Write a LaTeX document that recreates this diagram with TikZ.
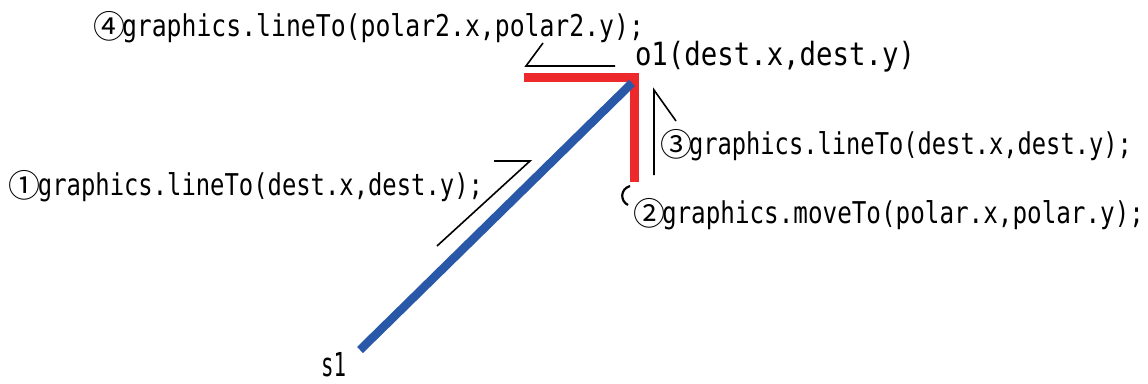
\documentclass[tikz,border=0pt]{standalone}
\usepackage{fontspec}
\usepackage{graphicx}
\newfontfamily\monof{DejaVu Sans Mono}
\newfontfamily\circf{Noto Sans CJK JP}
\definecolor{lineblue}{RGB}{42,88,168}
\definecolor{linered}{RGB}{237,41,43}
\newcommand\circd[1]{\makebox[26pt][c]{\raisebox{-2pt}{\circf\fontsize{32}{32}\selectfont #1}}}
\newcommand\fitw[3]{\resizebox{#1}{\height}{\monof\fontsize{#2}{#2}\selectfont #3}}
\begin{document}
\begin{tikzpicture}[x=1pt,y=-1pt,
  lbl/.style={anchor=base west, inner sep=0pt, outer sep=0pt},
  hint/.style={line width=1.6pt, black},
  thick/.style={line width=9pt}]
\useasboundingbox (0,0) rectangle (1148,383);
% key points
\coordinate (redL) at (524,77.5);
\coordinate (redC) at (634.5,77.5);
\coordinate (redB) at (634.5,182);
\coordinate (blueA) at (360,350);
\coordinate (blueB) at (632,83);
% thick lines
\draw[thick, linered, line join=miter] (redL) -- (redC) -- (redB);
\draw[line width=8.5pt, lineblue] (blueA) -- (blueB);
% half-arrow hints
\coordinate (h4a) at (543,43); \coordinate (h4b) at (526,66); \coordinate (h4c) at (615,66);
\draw[hint] (h4a) -- (h4b) -- (h4c);
\coordinate (h3a) at (676,121); \coordinate (h3b) at (654,90); \coordinate (h3c) at (654,175);
\draw[hint] (h3a) -- (h3b) -- (h3c);
\coordinate (h1a) at (437,246); \coordinate (h1b) at (530,161); \coordinate (h1c) at (494,161);
\draw[hint] (h1a) -- (h1b) -- (h1c);
\coordinate (h2a) at (630,186); \coordinate (h2b) at (628,205);
\draw[line width=2.2pt] (h2a) .. controls (620,189) and (620,201) .. (h2b);
% labels
\node[lbl] (t4) at (96,36) {\circd{④}\fitw{522pt}{30}{graphics.lineTo(polar2.x,polar2.y);}};
\node[lbl] (o1) at (635,65) {\fitw{280pt}{32}{o1(dest.x,dest.y)}};
\node[lbl] (t3) at (663,154) {\circd{③}\fitw{443pt}{30}{graphics.lineTo(dest.x,dest.y);}};
\node[lbl] (t1) at (12,195) {\circd{①}\fitw{445pt}{30}{graphics.lineTo(dest.x,dest.y);}};
\node[lbl] (t2) at (636,223) {\circd{②}\fitw{482pt}{30}{graphics.moveTo(polar.x,polar.y);}};
\node[lbl] (s1) at (321,376) {\fitw{25pt}{33}{s1}};
\end{tikzpicture}
\end{document}
